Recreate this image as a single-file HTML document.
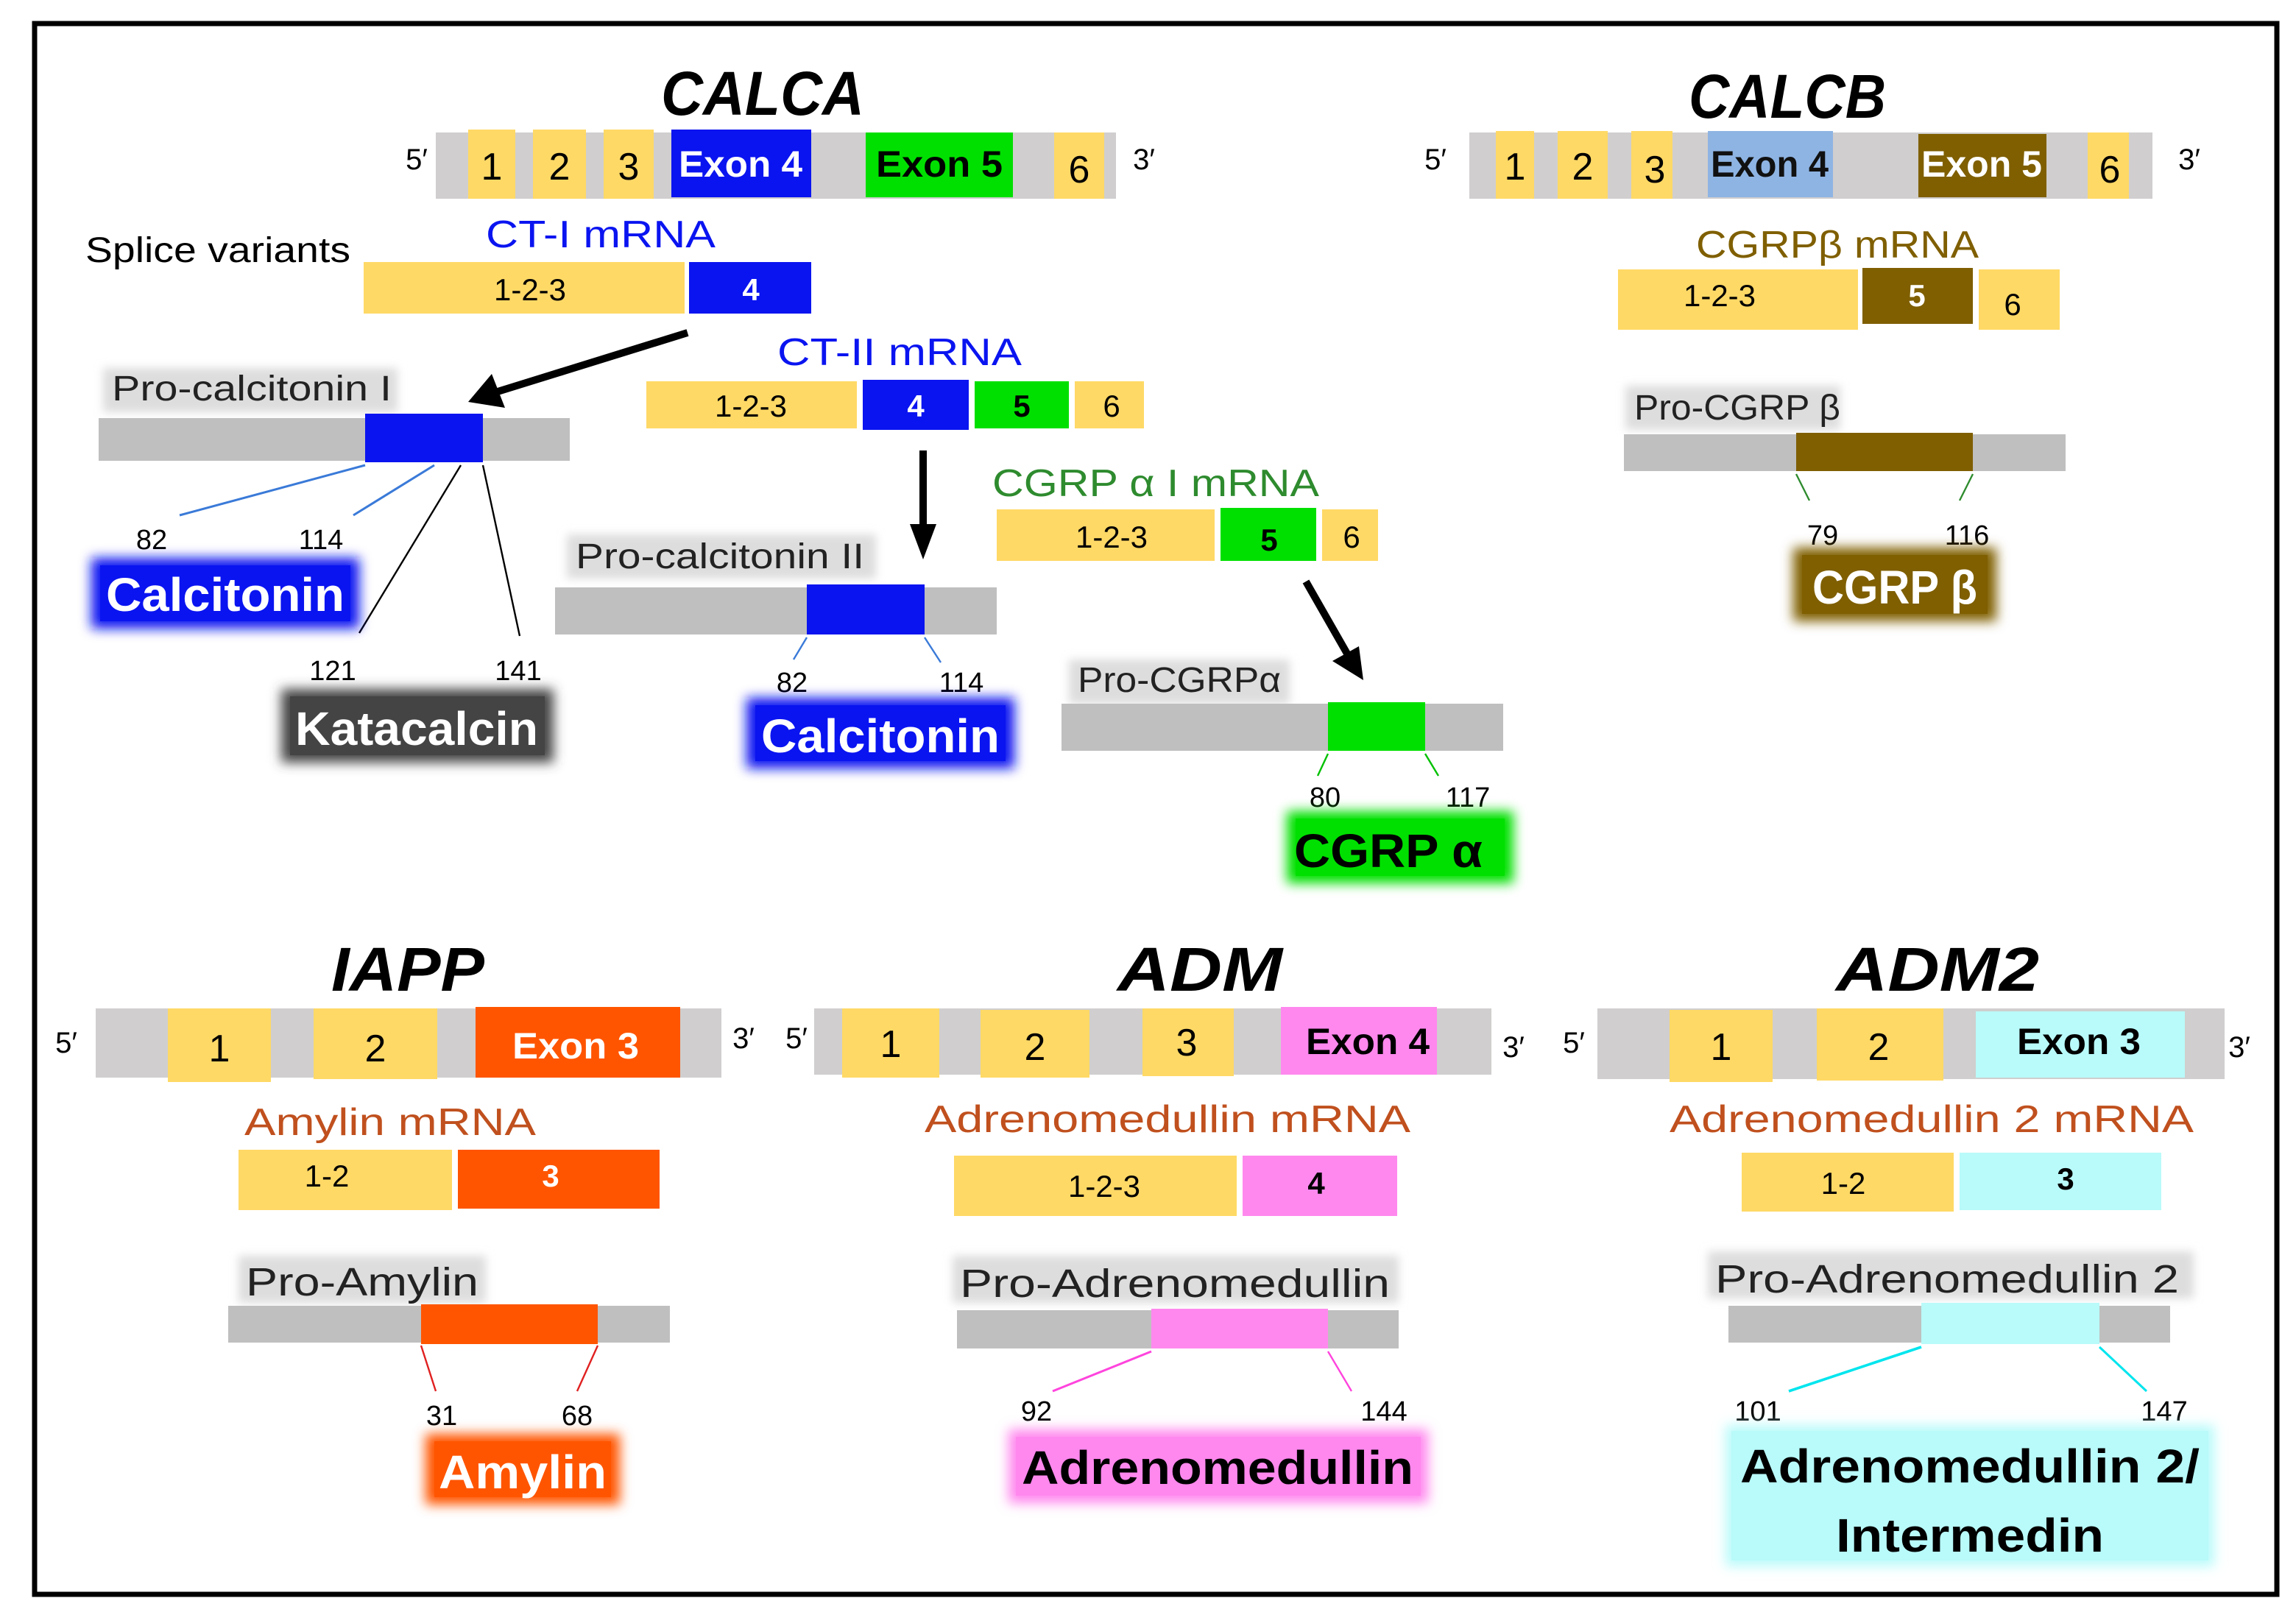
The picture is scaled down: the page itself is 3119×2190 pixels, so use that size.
<!DOCTYPE html>
<html><head><meta charset="utf-8"><style>
html,body{margin:0;padding:0;background:#fff}
svg{display:block}
text{font-family:"Liberation Sans",sans-serif}
</style></head><body>
<svg width="3119" height="2190" viewBox="0 0 1559.5 1095" xmlns="http://www.w3.org/2000/svg">
<defs>
<filter id="g" x="-20%" y="-40%" width="140%" height="180%"><feGaussianBlur stdDeviation="4"/></filter>
<filter id="g2" x="-20%" y="-40%" width="140%" height="180%"><feGaussianBlur stdDeviation="3"/></filter>
</defs>
<rect x="0" y="0" width="1559.5" height="1095" fill="#fff"/>
<rect x="23.5" y="16" width="1523" height="1067" fill="none" stroke="#000" stroke-width="3.5"/>

<!-- CALCA -->
<text x="518" y="78" font-size="42" font-weight="bold" font-style="italic" text-anchor="middle" textLength="138" lengthAdjust="spacingAndGlyphs">CALCA</text>
<rect x="296" y="90" width="462" height="45" fill="#D0CECE"/>
<rect x="318" y="88" width="32" height="47" fill="#FFD966"/>
<rect x="362" y="88" width="36" height="47" fill="#FFD966"/>
<rect x="410" y="88" width="34" height="47" fill="#FFD966"/>
<rect x="456" y="88" width="95" height="46" fill="#0A14F0"/>
<rect x="588" y="90" width="100" height="44" fill="#00E000"/>
<rect x="716" y="90" width="34" height="45" fill="#FFD966"/>
<g font-size="26" text-anchor="middle"><text x="334" y="122">1</text><text x="380" y="122">2</text><text x="427" y="122">3</text><text x="733" y="124">6</text></g>
<text x="503" y="120" font-size="25" font-weight="bold" fill="#fff" text-anchor="middle" textLength="84" lengthAdjust="spacingAndGlyphs">Exon 4</text>
<text x="638" y="120" font-size="25" font-weight="bold" text-anchor="middle" textLength="86" lengthAdjust="spacingAndGlyphs">Exon 5</text>
<text x="283" y="115" font-size="20" text-anchor="middle">5′</text>
<text x="777" y="115" font-size="20" text-anchor="middle">3′</text>

<text x="58" y="178" font-size="24" textLength="180" lengthAdjust="spacingAndGlyphs">Splice variants</text>
<text x="408" y="168" font-size="26" fill="#0A14F0" text-anchor="middle" textLength="156" lengthAdjust="spacingAndGlyphs">CT-I mRNA</text>
<rect x="247" y="178" width="218" height="35" fill="#FFD966"/>
<rect x="468" y="178" width="83" height="35" fill="#0A14F0"/>
<text x="360" y="204" font-size="21" text-anchor="middle">1-2-3</text>
<text x="510" y="204" font-size="21" font-weight="bold" fill="#fff" text-anchor="middle">4</text>

<line x1="467" y1="226" x2="338" y2="266" stroke="#000" stroke-width="5"/>
<polygon points="318,273 334,254 343,277" fill="#000"/>

<rect x="70" y="250" width="200" height="30" fill="#ddd" filter="url(#g2)"/>
<text x="76" y="272" font-size="24" fill="#222" textLength="190" lengthAdjust="spacingAndGlyphs">Pro-calcitonin I</text>
<rect x="67" y="284" width="320" height="29" fill="#BFBFBF"/>
<rect x="248" y="281" width="80" height="33" fill="#0A14F0"/>
<line x1="248" y1="316" x2="122" y2="350" stroke="#3A7AD8" stroke-width="1.5"/>
<line x1="295" y1="316" x2="240" y2="350" stroke="#3A7AD8" stroke-width="1.5"/>
<line x1="313" y1="316" x2="244" y2="430" stroke="#000" stroke-width="1.2"/>
<line x1="328" y1="316" x2="353" y2="432" stroke="#000" stroke-width="1.2"/>
<g font-size="19" text-anchor="middle"><text x="103" y="373">82</text><text x="218" y="373">114</text><text x="226" y="462">121</text><text x="352" y="462">141</text></g>
<rect x="62" y="379" width="182" height="48" fill="#0A14F0" filter="url(#g)"/>
<rect x="68" y="384" width="170" height="38" fill="#0A14F0"/>
<text x="153" y="415" font-size="32" font-weight="bold" fill="#fff" text-anchor="middle" textLength="162" lengthAdjust="spacingAndGlyphs">Calcitonin</text>
<rect x="191" y="468" width="185" height="50" fill="#444" filter="url(#g)"/>
<rect x="197" y="473" width="173" height="40" fill="#444"/>
<text x="283" y="506" font-size="32" font-weight="bold" fill="#fff" text-anchor="middle" textLength="165" lengthAdjust="spacingAndGlyphs">Katacalcin</text>

<text x="611" y="248" font-size="26" fill="#0A14F0" text-anchor="middle" textLength="166" lengthAdjust="spacingAndGlyphs">CT-II mRNA</text>
<rect x="439" y="259" width="143" height="32" fill="#FFD966"/>
<rect x="586" y="258" width="72" height="34" fill="#0A14F0"/>
<rect x="662" y="259" width="64" height="32" fill="#00E000"/>
<rect x="730" y="259" width="47" height="32" fill="#FFD966"/>
<text x="510" y="283" font-size="21" text-anchor="middle">1-2-3</text>
<text x="622" y="283" font-size="21" font-weight="bold" fill="#fff" text-anchor="middle">4</text>
<text x="694" y="283" font-size="21" font-weight="bold" text-anchor="middle">5</text>
<text x="755" y="283" font-size="21" text-anchor="middle">6</text>
<line x1="627" y1="306" x2="627" y2="360" stroke="#000" stroke-width="5"/>
<polygon points="618,356 636,356 627,380" fill="#000"/>

<rect x="385" y="363" width="210" height="30" fill="#ddd" filter="url(#g2)"/>
<text x="391" y="386" font-size="24" fill="#222" textLength="196" lengthAdjust="spacingAndGlyphs">Pro-calcitonin II</text>
<rect x="377" y="399" width="300" height="32" fill="#BFBFBF"/>
<rect x="548" y="397" width="80" height="34" fill="#0A14F0"/>
<line x1="548" y1="433" x2="539" y2="448" stroke="#3A7AD8" stroke-width="1.2"/>
<line x1="628" y1="433" x2="639" y2="450" stroke="#3A7AD8" stroke-width="1.2"/>
<g font-size="19" text-anchor="middle"><text x="538" y="470">82</text><text x="653" y="470">114</text></g>
<rect x="507" y="474" width="182" height="48" fill="#0A14F0" filter="url(#g)"/>
<rect x="513" y="479" width="170" height="38" fill="#0A14F0"/>
<text x="598" y="511" font-size="32" font-weight="bold" fill="#fff" text-anchor="middle" textLength="162" lengthAdjust="spacingAndGlyphs">Calcitonin</text>

<text x="785" y="337" font-size="26" fill="#2E8B2E" text-anchor="middle" textLength="222" lengthAdjust="spacingAndGlyphs">CGRP α I mRNA</text>
<rect x="677" y="346" width="148" height="35" fill="#FFD966"/>
<rect x="829" y="345" width="65" height="36" fill="#00E000"/>
<rect x="898" y="346" width="38" height="35" fill="#FFD966"/>
<text x="755" y="372" font-size="21" text-anchor="middle">1-2-3</text>
<text x="862" y="374" font-size="21" font-weight="bold" text-anchor="middle">5</text>
<text x="918" y="372" font-size="21" text-anchor="middle">6</text>
<line x1="887" y1="395" x2="915" y2="444" stroke="#000" stroke-width="5"/>
<polygon points="905,449 923,439 926,462" fill="#000"/>

<rect x="726" y="448" width="150" height="30" fill="#ddd" filter="url(#g2)"/>
<text x="732" y="470" font-size="24" fill="#222" textLength="138" lengthAdjust="spacingAndGlyphs">Pro-CGRPα</text>
<rect x="721" y="478" width="300" height="32" fill="#BFBFBF"/>
<rect x="902" y="477" width="66" height="33" fill="#00E000"/>
<line x1="902" y1="512" x2="895" y2="527" stroke="#00C000" stroke-width="1.2"/>
<line x1="968" y1="512" x2="977" y2="527" stroke="#00C000" stroke-width="1.2"/>
<g font-size="19" text-anchor="middle"><text x="900" y="548">80</text><text x="997" y="548">117</text></g>
<rect x="874" y="551" width="154" height="49" fill="#00E000" filter="url(#g)"/>
<rect x="880" y="556" width="142" height="39" fill="#00E000"/>
<text x="943" y="589" font-size="32" font-weight="bold" text-anchor="middle" textLength="128" lengthAdjust="spacingAndGlyphs">CGRP α</text>

<!-- CALCB -->
<text x="1214" y="80" font-size="42" font-weight="bold" font-style="italic" text-anchor="middle" textLength="134" lengthAdjust="spacingAndGlyphs">CALCB</text>
<rect x="998" y="90" width="464" height="45" fill="#D0CECE"/>
<rect x="1016" y="89" width="26" height="46" fill="#FFD966"/>
<rect x="1058" y="89" width="34" height="46" fill="#FFD966"/>
<rect x="1108" y="89" width="28" height="46" fill="#FFD966"/>
<rect x="1160" y="89" width="85" height="45" fill="#8EB4E3"/>
<rect x="1303" y="91" width="87" height="43" fill="#7F5F00"/>
<rect x="1418" y="90" width="28" height="45" fill="#FFD966"/>
<g font-size="26" text-anchor="middle"><text x="1029" y="122">1</text><text x="1075" y="122">2</text><text x="1124" y="124">3</text><text x="1433" y="124">6</text></g>
<text x="1202" y="120" font-size="25" font-weight="bold" fill="#111" text-anchor="middle" textLength="80" lengthAdjust="spacingAndGlyphs">Exon 4</text>
<text x="1346" y="120" font-size="25" font-weight="bold" fill="#fff" text-anchor="middle" textLength="82" lengthAdjust="spacingAndGlyphs">Exon 5</text>
<text x="975" y="115" font-size="20" text-anchor="middle">5′</text>
<text x="1487" y="115" font-size="20" text-anchor="middle">3′</text>

<text x="1248" y="175" font-size="26" fill="#7F5F00" text-anchor="middle" textLength="192" lengthAdjust="spacingAndGlyphs">CGRPβ mRNA</text>
<rect x="1099" y="183" width="163" height="41" fill="#FFD966"/>
<rect x="1265" y="182" width="75" height="38" fill="#7F5F00"/>
<rect x="1344" y="183" width="55" height="41" fill="#FFD966"/>
<text x="1168" y="208" font-size="21" text-anchor="middle">1-2-3</text>
<text x="1302" y="208" font-size="21" font-weight="bold" fill="#fff" text-anchor="middle">5</text>
<text x="1367" y="214" font-size="21" text-anchor="middle">6</text>

<rect x="1104" y="262" width="146" height="30" fill="#ddd" filter="url(#g2)"/>
<text x="1110" y="285" font-size="24" fill="#222" textLength="140" lengthAdjust="spacingAndGlyphs">Pro-CGRP β</text>
<rect x="1103" y="295" width="300" height="25" fill="#BFBFBF"/>
<rect x="1220" y="294" width="120" height="26" fill="#7F5F00"/>
<line x1="1220" y1="322" x2="1229" y2="340" stroke="#2E8B2E" stroke-width="1.2"/>
<line x1="1340" y1="322" x2="1331" y2="340" stroke="#2E8B2E" stroke-width="1.2"/>
<g font-size="19" text-anchor="middle"><text x="1238" y="370">79</text><text x="1336" y="370">116</text></g>
<rect x="1218" y="372" width="138" height="50" fill="#7F5F00" filter="url(#g)"/>
<rect x="1224" y="377" width="126" height="40" fill="#7F5F00"/>
<text x="1287" y="410" font-size="32" font-weight="bold" fill="#fff" text-anchor="middle" textLength="112" lengthAdjust="spacingAndGlyphs">CGRP β</text>

<!-- IAPP -->
<text x="277" y="673" font-size="42" font-weight="bold" font-style="italic" text-anchor="middle" textLength="104" lengthAdjust="spacingAndGlyphs">IAPP</text>
<rect x="65" y="685" width="425" height="47" fill="#D0CECE"/>
<rect x="114" y="685" width="70" height="50" fill="#FFD966"/>
<rect x="213" y="685" width="84" height="48" fill="#FFD966"/>
<rect x="323" y="684" width="139" height="48" fill="#FF5500"/>
<text x="149" y="721" font-size="26" text-anchor="middle">1</text>
<text x="255" y="721" font-size="26" text-anchor="middle">2</text>
<text x="391" y="719" font-size="25" font-weight="bold" fill="#fff" text-anchor="middle" textLength="86" lengthAdjust="spacingAndGlyphs">Exon 3</text>
<text x="45" y="715" font-size="20" text-anchor="middle">5′</text>
<text x="505" y="712" font-size="20" text-anchor="middle">3′</text>
<text x="265" y="771" font-size="26" fill="#C0501E" text-anchor="middle" textLength="198" lengthAdjust="spacingAndGlyphs">Amylin mRNA</text>
<rect x="162" y="781" width="145" height="41" fill="#FFD966"/>
<rect x="311" y="781" width="137" height="40" fill="#FF5500"/>
<text x="222" y="806" font-size="21" text-anchor="middle">1-2</text>
<text x="374" y="806" font-size="21" font-weight="bold" fill="#fff" text-anchor="middle">3</text>
<rect x="162" y="853" width="168" height="32" fill="#ddd" filter="url(#g2)"/>
<text x="167" y="880" font-size="27" fill="#222" textLength="158" lengthAdjust="spacingAndGlyphs">Pro-Amylin</text>
<rect x="155" y="887" width="300" height="25" fill="#BFBFBF"/>
<rect x="286" y="886" width="120" height="27" fill="#FF5500"/>
<line x1="286" y1="914" x2="296" y2="945" stroke="#E02020" stroke-width="1.2"/>
<line x1="406" y1="914" x2="392" y2="945" stroke="#E02020" stroke-width="1.2"/>
<g font-size="19" text-anchor="middle"><text x="300" y="968">31</text><text x="392" y="968">68</text></g>
<rect x="289" y="974" width="132" height="48" fill="#FF5500" filter="url(#g)"/>
<rect x="295" y="979" width="120" height="38" fill="#FF5500"/>
<text x="355" y="1011" font-size="32" font-weight="bold" fill="#fff" text-anchor="middle" textLength="114" lengthAdjust="spacingAndGlyphs">Amylin</text>

<!-- ADM -->
<text x="815" y="673" font-size="42" font-weight="bold" font-style="italic" text-anchor="middle" textLength="112" lengthAdjust="spacingAndGlyphs">ADM</text>
<rect x="553" y="685" width="460" height="45" fill="#D0CECE"/>
<rect x="572" y="685" width="66" height="47" fill="#FFD966"/>
<rect x="666" y="686" width="74" height="46" fill="#FFD966"/>
<rect x="776" y="685" width="62" height="46" fill="#FFD966"/>
<rect x="870" y="684" width="106" height="46" fill="#FF88EE"/>
<text x="605" y="718" font-size="26" text-anchor="middle">1</text>
<text x="703" y="720" font-size="26" text-anchor="middle">2</text>
<text x="806" y="717" font-size="26" text-anchor="middle">3</text>
<text x="929" y="716" font-size="25" font-weight="bold" text-anchor="middle" textLength="84" lengthAdjust="spacingAndGlyphs">Exon 4</text>
<text x="541" y="712" font-size="20" text-anchor="middle">5′</text>
<text x="1028" y="718" font-size="20" text-anchor="middle">3′</text>
<text x="793" y="769" font-size="26" fill="#C0501E" text-anchor="middle" textLength="330" lengthAdjust="spacingAndGlyphs">Adrenomedullin mRNA</text>
<rect x="648" y="785" width="192" height="41" fill="#FFD966"/>
<rect x="844" y="785" width="105" height="41" fill="#FF88EE"/>
<text x="750" y="813" font-size="21" text-anchor="middle">1-2-3</text>
<text x="894" y="811" font-size="21" font-weight="bold" text-anchor="middle">4</text>
<rect x="647" y="853" width="303" height="32" fill="#ddd" filter="url(#g2)"/>
<text x="652" y="881" font-size="27" fill="#222" textLength="292" lengthAdjust="spacingAndGlyphs">Pro-Adrenomedullin</text>
<rect x="650" y="890" width="300" height="26" fill="#BFBFBF"/>
<rect x="782" y="889" width="120" height="27" fill="#FF88EE"/>
<line x1="782" y1="918" x2="715" y2="945" stroke="#FF44DD" stroke-width="1.5"/>
<line x1="902" y1="918" x2="918" y2="945" stroke="#FF44DD" stroke-width="1.2"/>
<g font-size="19" text-anchor="middle"><text x="704" y="965">92</text><text x="940" y="965">144</text></g>
<rect x="685" y="971" width="285" height="50" fill="#FF88EE" filter="url(#g)"/>
<rect x="690" y="976" width="275" height="40" fill="#FF88EE"/>
<text x="827" y="1008" font-size="32" font-weight="bold" text-anchor="middle" textLength="266" lengthAdjust="spacingAndGlyphs">Adrenomedullin</text>

<!-- ADM2 -->
<text x="1316" y="673" font-size="42" font-weight="bold" font-style="italic" text-anchor="middle" textLength="138" lengthAdjust="spacingAndGlyphs">ADM2</text>
<rect x="1085" y="685" width="426" height="48" fill="#D0CECE"/>
<rect x="1134" y="686" width="70" height="49" fill="#FFD966"/>
<rect x="1234" y="685" width="86" height="49" fill="#FFD966"/>
<rect x="1342" y="687" width="142" height="45" fill="#B9FAFA"/>
<text x="1169" y="720" font-size="26" text-anchor="middle">1</text>
<text x="1276" y="720" font-size="26" text-anchor="middle">2</text>
<text x="1412" y="716" font-size="25" font-weight="bold" text-anchor="middle" textLength="84" lengthAdjust="spacingAndGlyphs">Exon 3</text>
<text x="1069" y="715" font-size="20" text-anchor="middle">5′</text>
<text x="1521" y="718" font-size="20" text-anchor="middle">3′</text>
<text x="1312" y="769" font-size="26" fill="#C0501E" text-anchor="middle" textLength="356" lengthAdjust="spacingAndGlyphs">Adrenomedullin 2 mRNA</text>
<rect x="1183" y="783" width="144" height="40" fill="#FFD966"/>
<rect x="1331" y="783" width="137" height="39" fill="#B9FAFA"/>
<text x="1252" y="811" font-size="21" text-anchor="middle">1-2</text>
<text x="1403" y="808" font-size="21" font-weight="bold" text-anchor="middle">3</text>
<rect x="1160" y="850" width="330" height="32" fill="#ddd" filter="url(#g2)"/>
<text x="1165" y="878" font-size="27" fill="#222" textLength="315" lengthAdjust="spacingAndGlyphs">Pro-Adrenomedullin 2</text>
<rect x="1174" y="887" width="300" height="25" fill="#BFBFBF"/>
<rect x="1305" y="885" width="121" height="28" fill="#B9FAFA"/>
<line x1="1305" y1="915" x2="1215" y2="945" stroke="#00E5EE" stroke-width="1.8"/>
<line x1="1426" y1="915" x2="1458" y2="945" stroke="#00E5EE" stroke-width="1.5"/>
<g font-size="19" text-anchor="middle"><text x="1194" y="965">101</text><text x="1470" y="965">147</text></g>
<rect x="1172" y="968" width="332" height="96" fill="#B9FAFA" filter="url(#g)"/>
<rect x="1176" y="972" width="324" height="88" fill="#B9FAFA"/>
<text x="1338" y="1007" font-size="32" font-weight="bold" text-anchor="middle" textLength="312" lengthAdjust="spacingAndGlyphs">Adrenomedullin 2/</text>
<text x="1338" y="1054" font-size="32" font-weight="bold" text-anchor="middle" textLength="182" lengthAdjust="spacingAndGlyphs">Intermedin</text>
</svg>
</body></html>
